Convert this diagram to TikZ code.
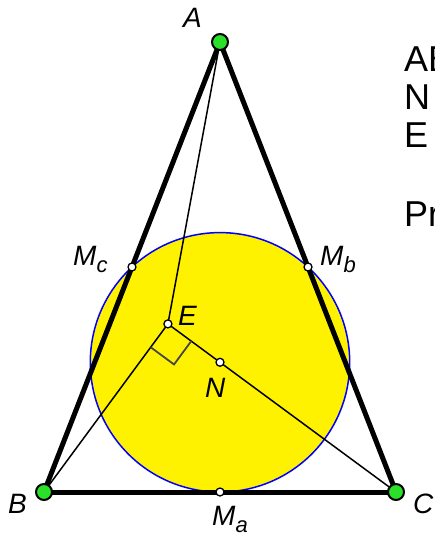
\documentclass[tikz,border=0pt]{standalone}
\usepackage{fontspec}
\setmainfont{Liberation Sans}
\usetikzlibrary{calc}
\definecolor{ptgreen}{RGB}{40,225,40}
\definecolor{markgray}{RGB}{70,70,70}
\tikzset{
  side/.style={line width=5pt, draw=black, line cap=round},
  cevian/.style={line width=1.5pt, draw=black},
  vertex/.style={circle, draw=black, line width=2pt, fill=ptgreen,
    inner sep=0pt, minimum size=16pt},
  midpt/.style={circle, draw=black, line width=1.3pt, fill=white,
    inner sep=0pt, minimum size=8pt},
  lbl/.style={anchor=base west, inner sep=0pt,
    font=\fontsize{28}{28}\selectfont\itshape},
  note/.style={anchor=base west, inner sep=0pt,
    font=\fontsize{36}{36}\selectfont}
}
\newcommand{\subs}[1]{\raisebox{-0.28em}{\fontsize{22}{22}\selectfont #1}}

\begin{document}
\begin{tikzpicture}[x=1pt, y=-1pt]
  \useasboundingbox (0,0) rectangle (435,537);
  \clip (0,0) rectangle (435,537);

  % triangle and nine-point circle
  \coordinate (A) at (220,42);
  \coordinate (B) at (44,492);
  \coordinate (C) at (396,492);
  \coordinate (Ma) at ($(B)!0.5!(C)$);
  \coordinate (Mb) at ($(A)!0.5!(C)$);
  \coordinate (Mc) at ($(A)!0.5!(B)$);
  \coordinate (N) at (220,362.3);
  \coordinate (E) at ($(C)!(B)!(N)$);

  \draw[blue, line width=1.5pt, fill=yellow] (N) circle (129.7);

  \draw[cevian] (A) -- (E);
  \draw[cevian] (B) -- (E);
  \draw[cevian] (E) -- (C);

  % right angle at E
  \coordinate (rb) at ($(E)!29pt!(B)$);
  \coordinate (rc) at ($(E)!29pt!(C)$);
  \draw[markgray, line width=1.8pt] (rb) -- ($(rb)+(rc)-(E)$) -- (rc);

  \draw[side] (A) -- (B);
  \draw[side] (B) -- (C);
  \draw[side] (C) -- (A);

  \node[vertex] (pA) at (A) {};
  \node[vertex] (pB) at (B) {};
  \node[vertex] (pC) at (C) {};
  \node[midpt] (pMa) at (Ma) {};
  \node[midpt] (pMb) at (Mb) {};
  \node[midpt] (pMc) at (Mc) {};
  \node[midpt] (pE) at (E) {};
  \node[midpt] (pN) at (N) {};

  % labels
  \node[lbl] (lA) at (183,28) {A};
  \node[lbl] (lB) at (8,513) {B};
  \node[lbl] (lC) at (413,513) {C};
  \node[lbl] (lMc) at (73,265) {M\subs{c}};
  \node[lbl] (lMb) at (320,265) {M\subs{b}};
  \node[lbl] (lMa) at (212,525) {M\subs{a}};
  \node[lbl] (lE) at (178,325) {E};
  \node[lbl] (lN) at (205,397) {N};

  % text on the right (cut by the frame)
  \node[note] (t1) at (404,72) {AB};
  \node[note] (t2) at (404,110) {N};
  \node[note] (t3) at (404,148) {E};
  \node[note] (t4) at (404,226) {Pr};
\end{tikzpicture}
\end{document}
